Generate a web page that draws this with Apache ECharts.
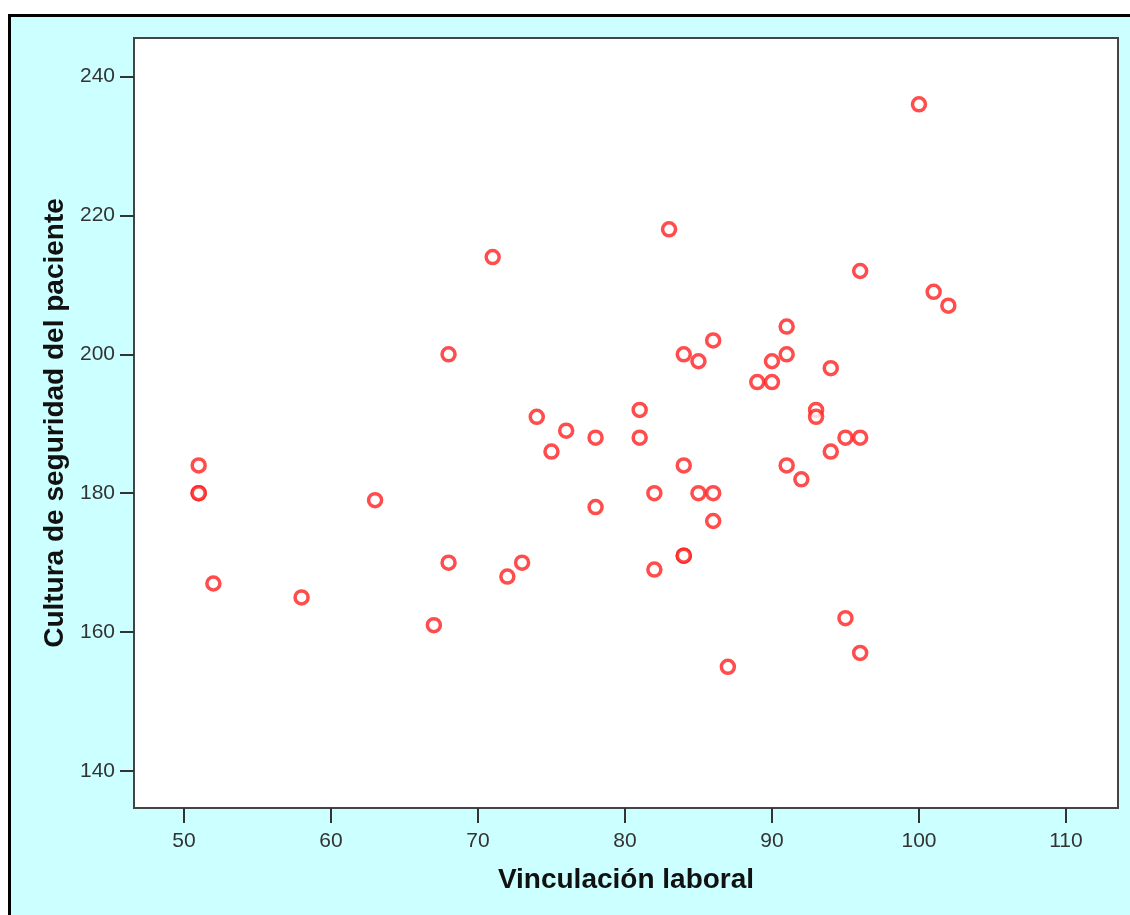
<!DOCTYPE html>
<html>
<head>
<meta charset="utf-8">
<script src="https://cdn.jsdelivr.net/npm/echarts@6/dist/echarts.min.js"></script>
<style>
  html, body { margin: 0; padding: 0; background: #fff; }
  #frame {
    position: absolute; left: 8px; top: 14px; width: 1130px; height: 910px;
    border: 3px solid #000; background: #ccffff;
  }
  #chart { position: absolute; left: 0; top: 0; width: 1130px; height: 915px; }
</style>
</head>
<body>
<div id="frame"></div>
<div id="chart"></div>
<script>
// Vinculación laboral (x) vs Cultura de seguridad del paciente (y)
var vinculacion = [51, 51, 51, 52, 58, 63, 67, 68, 68, 71, 72, 73, 74, 75, 76, 78, 78,
  81, 81, 82, 82, 83, 84, 84, 84, 84, 85, 85, 86, 86, 86, 87, 89, 90, 90,
  91, 91, 91, 92, 93, 93, 94, 94, 95, 95, 96, 96, 96, 100, 101, 102];
var cultura = [184, 180, 180, 167, 165, 179, 161, 200, 170, 214, 168, 170, 191, 186, 189, 188, 178,
  192, 188, 180, 169, 218, 200, 184, 171, 171, 199, 180, 202, 180, 176, 155, 196, 199, 196,
  204, 200, 184, 182, 192, 191, 198, 186, 188, 162, 212, 188, 157, 236, 209, 207];
var xTicks = [50, 60, 70, 80, 90, 100, 110];
var yTicks = [140, 160, 180, 200, 220, 240];

var points = vinculacion.map(function (v, i) { return [v, cultura[i]]; });

var chart = echarts.init(document.getElementById('chart'));
var option = {
  backgroundColor: 'transparent',
  animation: false,
  grid: {
    left: 134, top: 38, right: 12, bottom: 107,
    show: true, backgroundColor: '#fff', borderColor: '#444', borderWidth: 2
  },
  xAxis: {
    type: 'value',
    min: 46.6, max: 113.54,
    name: 'Vinculación laboral',
    nameLocation: 'middle',
    nameGap: 58,
    nameTextStyle: { fontFamily: 'Liberation Sans', fontWeight: 'bold', fontSize: 28, color: '#111' },
    splitLine: { show: false },
    axisLine: { show: true, lineStyle: { color: '#444', width: 2 } },
    axisTick: { show: true, length: 15, customValues: xTicks, lineStyle: { color: '#333', width: 2 } },
    axisLabel: { customValues: xTicks, margin: 23, fontFamily: 'Liberation Sans', fontSize: 21, color: '#333' }
  },
  yAxis: {
    type: 'value',
    min: 134.67, max: 245.55,
    name: 'Cultura de seguridad del paciente',
    nameLocation: 'middle',
    nameGap: 64,
    nameTextStyle: { fontFamily: 'Liberation Sans', fontWeight: 'bold', fontSize: 28, color: '#111' },
    splitLine: { show: false },
    axisLine: { show: true, lineStyle: { color: '#444', width: 2 } },
    axisTick: { show: true, length: 14, customValues: yTicks, lineStyle: { color: '#333', width: 2 } },
    axisLabel: { customValues: yTicks, margin: 19, fontFamily: 'Liberation Sans', fontSize: 21, color: '#333' }
  },
  series: [{
    type: 'scatter',
    data: points,
    symbol: 'circle',
    symbolSize: 13,
    itemStyle: { color: '#fff', borderColor: '#ff1f1f', borderWidth: 3.5 }
  }]
};
chart.setOption(option);
</script>
</body>
</html>
